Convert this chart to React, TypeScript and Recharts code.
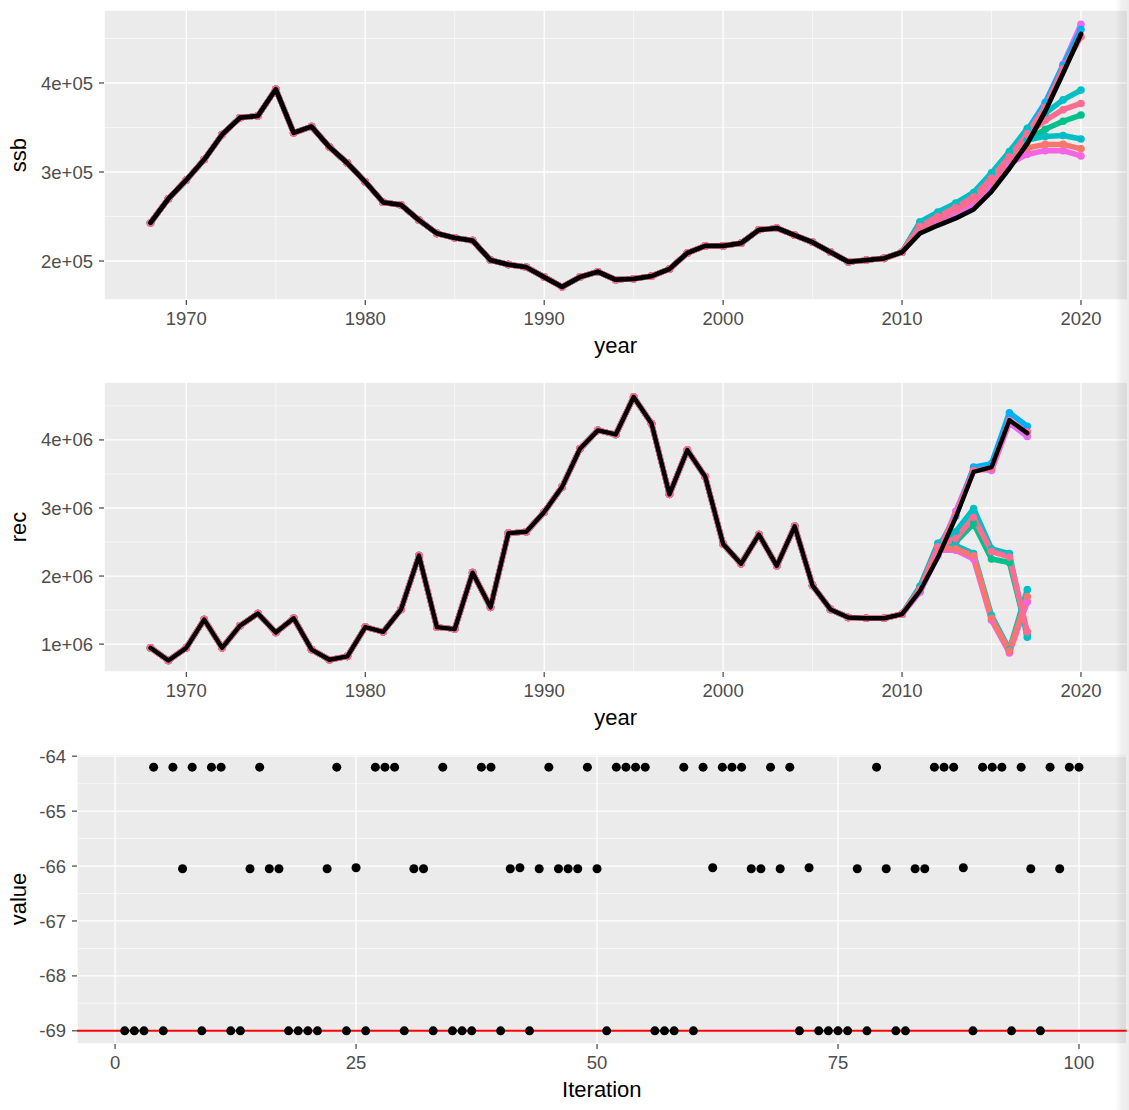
import {
  LineChart,
  Line,
  XAxis,
  YAxis,
  CartesianGrid,
  ScatterChart,
  Scatter,
  ReferenceLine,
} from "recharts";

const FONT = "'Liberation Sans', Arial, Helvetica, sans-serif";
const TICK = { fill: "#4D4D4D", fontSize: 18.5, fontFamily: FONT };
const TITLE = { fill: "#000000", fontSize: 22, fontFamily: FONT, textAnchor: "middle" as const };

// ---- x axis (years) ----
const ssbYears = [
  1968, 1969, 1970, 1971, 1972, 1973, 1974, 1975, 1976, 1977, 1978, 1979, 1980, 1981,
  1982, 1983, 1984, 1985, 1986, 1987, 1988, 1989, 1990, 1991, 1992, 1993, 1994, 1995,
  1996, 1997, 1998, 1999, 2000, 2001, 2002, 2003, 2004, 2005, 2006, 2007, 2008, 2009,
  2010, 2011, 2012, 2013, 2014, 2015, 2016, 2017, 2018, 2019, 2020,
];
const recYears = ssbYears.slice(0, 50); // 1968 - 2017
const yearTicks = [1970, 1980, 1990, 2000, 2010, 2020];
const yearMinor = [1975, 1985, 1995, 2005, 2015];
const YEAR_DOMAIN = [1965.4, 2022.6];

// ---- ssb ----
const ssbMain = [
  243000, 270000, 291000, 314000, 342000, 361000, 363000, 393000, 344000, 351000,
  328000, 310000, 289000, 266000, 263000, 246000, 231000, 226000, 223000, 201000,
  196000, 193000, 182000, 171000, 182000, 188000, 179000, 180000, 183000, 191000,
  209000, 217000, 217000, 220000, 235000, 237000, 229000, 221000, 210000, 199000,
  201000, 203000, 210000, 231000, 240000, 248000, 258000, 278000, 304000, 332000,
  368000, 411000, 455000,
];
// iteration bundles, 2011 - 2020 (history matches ssbMain)
const ssbUpPink = [236000, 247000, 257000, 268000, 289000, 314000, 343000, 373000, 416000, 452000];
const ssbUpMagenta = [233000, 243000, 252000, 262000, 283000, 309000, 340000, 376000, 421000, 466000];
const ssbUpBlue = [238000, 249000, 259000, 271000, 292000, 318000, 347000, 378000, 420000, 460000];
const ssbMidCyan = [244000, 255000, 265000, 277000, 299000, 323000, 349000, 366000, 381000, 392000];
const ssbMidPink = [239000, 250000, 260000, 272000, 293000, 317000, 342000, 358000, 370000, 377000];
const ssbMidGreen = [237000, 248000, 258000, 269000, 290000, 314000, 336000, 348000, 357000, 364000];
const ssbLowCyan = [243000, 254000, 264000, 276000, 298000, 321000, 336000, 340000, 341000, 337000];
const ssbLowPink = [238000, 249000, 259000, 271000, 292000, 315000, 327000, 331000, 331000, 326000];
const ssbLowMagenta = [235000, 246000, 255000, 266000, 286000, 309000, 320000, 324000, 324000, 318000];
const ssbTicks = [200000, 300000, 400000];
const ssbMinor = [250000, 350000, 450000];

// ---- rec ----
const recMain = [
  945000, 760000, 945000, 1360000, 945000, 1270000, 1450000, 1170000, 1380000, 920000,
  770000, 820000, 1250000, 1180000, 1510000, 2300000, 1250000, 1220000, 2050000, 1540000,
  2630000, 2650000, 2940000, 3310000, 3870000, 4140000, 4080000, 4630000, 4240000, 3200000,
  3850000, 3460000, 2470000, 2180000, 2610000, 2150000, 2730000, 1860000, 1510000, 1390000,
  1380000, 1380000, 1440000, 1780000, 2270000, 2860000, 3530000, 3600000, 4290000, 4100000,
];
// iteration bundles, 2011 - 2017
const recUpPink = [1800000, 2350000, 2900000, 3550000, 3580000, 4280000, 4120000];
const recUpMagenta = [1760000, 2300000, 2950000, 3580000, 3550000, 4250000, 4050000];
const recUpBlue = [1820000, 2400000, 2880000, 3600000, 3650000, 4400000, 4200000];
const recMidCyan = [1850000, 2480000, 2650000, 2990000, 2400000, 2330000, 1100000];
const recMidPink = [1800000, 2430000, 2550000, 2860000, 2360000, 2280000, 1180000];
const recMidGreen = [1790000, 2400000, 2500000, 2770000, 2250000, 2200000, 1150000];
const recLowCyan = [1830000, 2450000, 2450000, 2330000, 1420000, 920000, 1800000];
const recLowPink = [1800000, 2420000, 2400000, 2300000, 1380000, 900000, 1700000];
const recLowMagenta = [1780000, 2380000, 2380000, 2250000, 1350000, 870000, 1620000];
const recTicks = [1000000, 2000000, 3000000, 4000000];
const recMinor = [1500000, 2500000, 3500000, 4500000];

// ---- objective value per iteration ----
const iterValues = [
  -69, -69, -69, -64.2, -69, -64.2, -66.05, -64.2, -69, -64.2,
  -64.2, -69, -69, -66.05, -64.2, -66.05, -66.05, -69, -69, -69,
  -69, -66.05, -64.2, -69, -66.03, -69, -64.2, -64.2, -64.2, -69,
  -66.05, -66.05, -69, -64.2, -69, -69, -69, -64.2, -64.2, -69,
  -66.05, -66.03, -69, -66.05, -64.2, -66.05, -66.05, -66.05, -64.2, -66.05,
  -69, -64.2, -64.2, -64.2, -64.2, -69, -69, -69, -64.2, -69,
  -64.2, -66.03, -64.2, -64.2, -64.2, -66.05, -66.05, -64.2, -66.05, -64.2,
  -69, -66.03, -69, -69, -69, -69, -66.05, -69, -64.2, -66.05,
  -69, -69, -66.05, -66.05, -64.2, -64.2, -64.2, -66.03, -69, -64.2,
  -64.2, -64.2, -69, -64.2, -66.05, -69, -64.2, -66.05, -64.2, -64.2,
];
const iterTicks = [0, 25, 50, 75, 100];
const iterMinor = [12.5, 37.5, 62.5, 87.5];
const valueTicks = [-69, -68, -67, -66, -65, -64];
const valueMinor = [-68.5, -67.5, -66.5, -65.5, -64.5];
const refValue = -69;

type Series = { key: string; color: string; tail: number[] };

const ssbSeries: Series[] = [
  { key: "lowMag", color: "#F564E3", tail: ssbLowMagenta },
  { key: "upMag", color: "#E76BF3", tail: ssbUpMagenta },
  { key: "upBlue", color: "#00B0F6", tail: ssbUpBlue },
  { key: "midGreen", color: "#00C08B", tail: ssbMidGreen },
  { key: "midCyan", color: "#00BFC4", tail: ssbMidCyan },
  { key: "lowCyan", color: "#00BFC4", tail: ssbLowCyan },
  { key: "lowPink", color: "#F8766D", tail: ssbLowPink },
  { key: "midPink", color: "#FF6C91", tail: ssbMidPink },
  { key: "upPink", color: "#FF6C91", tail: ssbUpPink },
];

const recSeries: Series[] = [
  { key: "lowMag", color: "#F564E3", tail: recLowMagenta },
  { key: "upMag", color: "#E76BF3", tail: recUpMagenta },
  { key: "upBlue", color: "#00B0F6", tail: recUpBlue },
  { key: "midGreen", color: "#00C08B", tail: recMidGreen },
  { key: "midCyan", color: "#00BFC4", tail: recMidCyan },
  { key: "lowCyan", color: "#00BFC4", tail: recLowCyan },
  { key: "lowPink", color: "#F8766D", tail: recLowPink },
  { key: "midPink", color: "#FF6C91", tail: recMidPink },
  { key: "upPink", color: "#FF6C91", tail: recUpPink },
];

function buildRows(years: number[], main: number[], series: Series[]) {
  return years.map((year, i) => {
    const row: Record<string, number> = { year, main: main[i] };
    series.forEach((s) => {
      const t = i - (years.length - s.tail.length);
      row[s.key] = t >= 0 ? s.tail[t] : main[i];
    });
    return row;
  });
}

const ssbRows = buildRows(ssbYears, ssbMain, ssbSeries);
const recRows = buildRows(recYears, recMain, recSeries);
const iterRows = iterValues.map((value, i) => ({ iteration: i + 1, value }));

const sci = (v: number) => {
  const [m, e] = v.toExponential(0).split("e");
  const sign = e.startsWith("-") ? "-" : "+";
  return `${m}e${sign}${e.replace(/[+-]/, "").padStart(2, "0")}`;
};

type PanelProps = {
  rows: Record<string, number>[];
  series: Series[];
  domain: number[];
  ticks: number[];
  minor: number[];
  label: string;
  mainWidth: number;
};

function YearPanel({ rows, series, domain, ticks, minor, label, mainWidth }: PanelProps) {
  return (
    <div style={{ position: "relative", width: 1129, height: 370 }}>
      <LineChart width={1129} height={370} data={rows} margin={{ top: 10, right: 1.5, bottom: 0, left: 0 }}>
        <XAxis xAxisId="minor" type="number" dataKey="year" domain={YEAR_DOMAIN} ticks={yearMinor} allowDataOverflow hide />
        <YAxis yAxisId="minor" type="number" domain={domain} ticks={minor} allowDataOverflow hide />
        <CartesianGrid xAxisId="minor" yAxisId="minor" fill="#EBEBEB" stroke="#FFFFFF" strokeWidth={0.6} />
        <CartesianGrid stroke="#FFFFFF" strokeWidth={1.3} />
        <XAxis
          type="number"
          dataKey="year"
          domain={YEAR_DOMAIN}
          ticks={yearTicks}
          allowDataOverflow
          height={70}
          axisLine={false}
          tickSize={5}
          tickMargin={7}
          tick={TICK}
          tickLine={{ stroke: "#333333", strokeWidth: 1.1 }}
          label={{ value: "year", position: "insideBottom", offset: 17, style: TITLE }}
        />
        <YAxis
          type="number"
          domain={domain}
          ticks={ticks}
          allowDataOverflow
          width={104}
          axisLine={false}
          tickSize={5}
          tickMargin={6}
          tick={TICK}
          tickFormatter={sci}
          tickLine={{ stroke: "#333333", strokeWidth: 1.1 }}
          label={{ value: label, angle: -90, position: "insideLeft", offset: 18, style: TITLE }}
        />
        {series.map((s) => (
          <Line
            key={s.key}
            dataKey={s.key}
            stroke={s.color}
            strokeWidth={5.5}
            strokeLinejoin="round"
            strokeLinecap="round"
            dot={{ r: 3.8, fill: s.color, stroke: "none" }}
            isAnimationActive={false}
          />
        ))}
      </LineChart>
      {/* the black reference run sits above every iteration's dots */}
      <div style={{ position: "absolute", left: 0, top: 0 }}>
        <LineChart width={1129} height={370} data={rows} margin={{ top: 10, right: 1.5, bottom: 70, left: 104 }}>
          <XAxis type="number" dataKey="year" domain={YEAR_DOMAIN} allowDataOverflow hide />
          <YAxis type="number" domain={domain} allowDataOverflow hide />
          <Line
            dataKey="main"
            stroke="#000000"
            strokeWidth={mainWidth}
            strokeLinejoin="round"
            strokeLinecap="round"
            dot={false}
            isAnimationActive={false}
          />
        </LineChart>
      </div>
    </div>
  );
}

function IterationPanel() {
  return (
    <ScatterChart width={1129} height={368} margin={{ top: 12, right: 2.3, bottom: 0, left: 0 }}>
      <XAxis xAxisId="minor" type="number" domain={[-3.95, 104.95]} ticks={iterMinor} allowDataOverflow hide />
      <YAxis yAxisId="minor" type="number" domain={[-69.24, -63.96]} ticks={valueMinor} allowDataOverflow hide />
      <CartesianGrid xAxisId="minor" yAxisId="minor" fill="#EBEBEB" stroke="#FFFFFF" strokeWidth={0.6} />
      <CartesianGrid stroke="#FFFFFF" strokeWidth={1.3} />
      <XAxis
        type="number"
        dataKey="iteration"
        domain={[-3.95, 104.95]}
        ticks={iterTicks}
        allowDataOverflow
        height={66}
        axisLine={false}
        tickSize={5}
        tickMargin={7}
        tick={TICK}
        tickLine={{ stroke: "#333333", strokeWidth: 1.1 }}
        label={{ value: "Iteration", position: "insideBottom", offset: 13, style: TITLE }}
      />
      <YAxis
        type="number"
        dataKey="value"
        domain={[-69.24, -63.96]}
        ticks={valueTicks}
        allowDataOverflow
        width={77}
        axisLine={false}
        tickSize={5}
        tickMargin={6}
        tick={TICK}
        tickLine={{ stroke: "#333333", strokeWidth: 1.1 }}
        label={{ value: "value", angle: -90, position: "insideLeft", offset: 18, style: TITLE }}
      />
      <Scatter data={iterRows} fill="#000000" isAnimationActive={false} />
      <ReferenceLine y={refValue} stroke="#FF0000" strokeWidth={2} />
    </ScatterChart>
  );
}

export default function App() {
  return (
    <div
      style={{
        position: "absolute",
        left: 0,
        top: 0,
        width: 1129,
        height: 1110,
        background: "#FFFFFF",
        overflow: "hidden",
        fontFamily: FONT,
      }}
    >
      <div style={{ position: "absolute", left: 0, top: 0 }}>
        <YearPanel rows={ssbRows} series={ssbSeries} domain={[156200, 482000]} ticks={ssbTicks} minor={ssbMinor} label="ssb" mainWidth={4.8} />
      </div>
      <div style={{ position: "absolute", left: 0, top: 372 }}>
        <YearPanel rows={recRows} series={recSeries} domain={[590000, 4851000]} ticks={recTicks} minor={recMinor} label="rec" mainWidth={4.4} />
      </div>
      <div style={{ position: "absolute", left: 0, top: 742 }}>
        <IterationPanel />
      </div>
      <div
        style={{
          position: "absolute",
          left: 1115,
          top: 0,
          width: 14,
          height: 1110,
          background: "linear-gradient(to right, rgba(0,0,0,0), rgba(0,0,0,0.06) 50%, rgba(0,0,0,0.08))",
          pointerEvents: "none",
        }}
      />
    </div>
  );
}
